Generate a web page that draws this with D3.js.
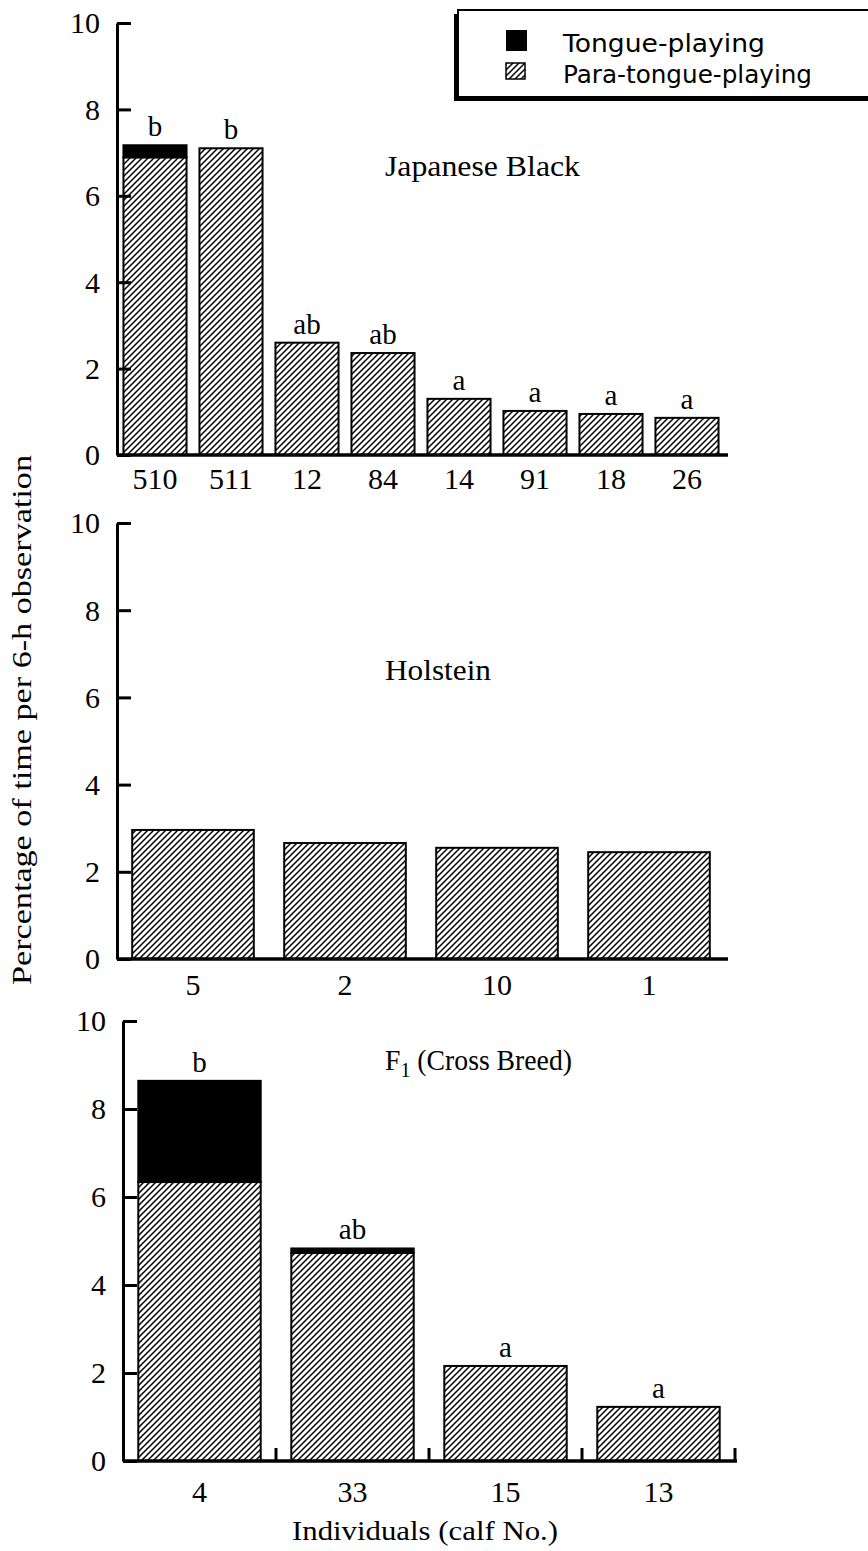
<!DOCTYPE html>
<html><head><meta charset="utf-8">
<script src="https://cdn.jsdelivr.net/npm/d3@7"></script>
<style>
html,body{margin:0;padding:0;background:#fff;}
svg{display:block;}
.serif{font-family:"Liberation Serif","Times New Roman",serif;}
.sans{font-family:"DejaVu Sans","Liberation Sans",sans-serif;}
</style></head>
<body>
<svg id="chart" width="868" height="1551"></svg>
<script>
// ---- data ----
const jbCalves = ["510","511","12","84","14","91","18","26"];
const jbPara   = [6.89, 7.10, 2.60, 2.36, 1.30, 1.02, 0.95, 0.86];
const jbTongue = [0.28, 0, 0, 0, 0, 0, 0, 0];
const jbLetters = ["b","b","ab","ab","a","a","a","a"];

const hoCalves = ["5","2","10","1"];
const hoPara   = [2.96, 2.66, 2.55, 2.45];
const hoTongue = [0, 0, 0, 0];
const hoLetters = ["","","",""];

const f1Calves = ["4","33","15","13"];
const f1Para   = [6.34, 4.73, 2.16, 1.23];
const f1Tongue = [2.30, 0.10, 0, 0];
const f1Letters = ["b","ab","a","a"];

const yTicks = [0,2,4,6,8,10];
const legendLabels = ["Tongue-playing","Para-tongue-playing"];

const svg = d3.select("#chart");
const defs = svg.append("defs");
const pat = defs.append("pattern").attr("id","hatch").attr("patternUnits","userSpaceOnUse")
  .attr("width",6).attr("height",6);
pat.append("rect").attr("width",6).attr("height",6).attr("fill","#fff");
pat.append("path").attr("d","M-1,1 l2,-2 M0,6 l6,-6 M5,7 l2,-2").attr("stroke","#000").attr("stroke-width",1.5);

function panel(cfg){
  const g = svg.append("g");
  const y = d3.scaleLinear().domain([0,10]).range([cfg.y0, cfg.y10]);
  const x = d3.scaleBand().domain(cfg.cats).range([cfg.xl, cfg.xr])
    .paddingInner(cfg.pi).paddingOuter(cfg.po);
  const data = cfg.cats.map((c,i)=>({c, p:cfg.para[i], t:cfg.tongue[i], l:cfg.letters[i]}));
  g.selectAll(".hb").data(data).join("rect")
    .attr("x",d=>x(d.c)).attr("width",x.bandwidth())
    .attr("y",d=>y(d.p)).attr("height",d=>y(0)-y(d.p))
    .attr("fill","url(#hatch)").attr("stroke","#000").attr("stroke-width",2);
  g.selectAll(".tb").data(data.filter(d=>d.t>0)).join("rect")
    .attr("x",d=>x(d.c)).attr("width",x.bandwidth())
    .attr("y",d=>y(d.p+d.t)).attr("height",d=>y(d.p)-y(d.p+d.t))
    .attr("fill","#000").attr("stroke","#000").attr("stroke-width",2);
  g.selectAll(".lt").data(data).join("text").attr("class","serif")
    .attr("x",d=>x(d.c)+x.bandwidth()/2).attr("y",d=>y(d.p+d.t)-9)
    .attr("text-anchor","middle").attr("font-size",29).text(d=>d.l);
  const ya = g.append("g").attr("transform",`translate(${cfg.xl},0)`)
    .call(d3.axisLeft(y).tickValues(yTicks).tickSize(-14).tickSizeOuter(0).tickPadding(17));
  ya.select(".domain").attr("stroke","#000").attr("stroke-width",3);
  ya.selectAll(".tick line").attr("stroke","#000").attr("stroke-width",3);
  ya.selectAll(".tick text").attr("class","serif").attr("font-size",30).attr("fill","#000")
    .attr("dy","0.33em");
  const xa = g.append("g").attr("transform",`translate(0,${cfg.y0})`)
    .call(d3.axisBottom(x).tickSize(0).tickSizeOuter(0).tickPadding(cfg.xpad));
  xa.select(".domain").attr("d",`M${cfg.xl},0H${cfg.xend}`).attr("stroke","#000").attr("stroke-width",3.5);
  xa.selectAll(".tick text").attr("class","serif").attr("font-size",30).attr("fill","#000");
  if(cfg.boundaryTicks){
    const bounds = cfg.cats.map(c=>x(c)+x.bandwidth()+x.step()*x.paddingInner()/2);
    g.selectAll(".bt").data(bounds).join("line")
      .attr("x1",d=>d).attr("x2",d=>d).attr("y1",cfg.y0).attr("y2",cfg.y0-13)
      .attr("stroke","#000").attr("stroke-width",3);
  }
  const t = g.append("text").attr("class","serif").attr("x",385).attr("y",cfg.titleY)
    .attr("font-size",29);
  if(cfg.sub){
    t.attr("textLength",cfg.titleW).attr("lengthAdjust","spacingAndGlyphs");
    t.append("tspan").text("F");
    t.append("tspan").attr("font-size",21).attr("dy",7).text("1");
    t.append("tspan").attr("dy",-7).text(" (Cross Breed)");
  } else t.attr("textLength",cfg.titleW).attr("lengthAdjust","spacingAndGlyphs").text(cfg.title);
}

panel({cats:jbCalves, para:jbPara, tongue:jbTongue, letters:jbLetters,
  y0:455, y10:23, xl:117, xr:725, xend:728, pi:0.17, po:0.085, xpad:13,
  title:"Japanese Black", titleY:176, titleW:195});
panel({cats:hoCalves, para:hoPara, tongue:hoTongue, letters:hoLetters,
  y0:959, y10:523, xl:117, xr:725, xend:728, pi:0.2, po:0.1, xpad:15,
  title:"Holstein", titleY:680, titleW:106});
panel({cats:f1Calves, para:f1Para, tongue:f1Tongue, letters:f1Letters,
  y0:1461, y10:1021, xl:123, xr:735, xend:737, pi:0.2, po:0.1, xpad:20,
  title:"", sub:true, titleY:1070, titleW:187, boundaryTicks:true});

// y axis title
svg.append("text").attr("class","serif").attr("font-size",28)
  .attr("transform","translate(31,720) rotate(-90)").attr("text-anchor","middle")
  .attr("textLength",530).attr("lengthAdjust","spacingAndGlyphs")
  .text("Percentage of time per 6-h observation");
// x axis title
svg.append("text").attr("class","serif").attr("font-size",28)
  .attr("x",425).attr("y",1540).attr("text-anchor","middle")
  .attr("textLength",266).attr("lengthAdjust","spacingAndGlyphs").text("Individuals (calf No.)");

// legend
const lg = svg.append("g");
lg.append("rect").attr("x",454).attr("y",14).attr("width",420).attr("height",87).attr("fill","#000");
lg.append("rect").attr("x",458).attr("y",10).attr("width",420).attr("height",87)
  .attr("fill","#fff").attr("stroke","#000").attr("stroke-width",2);
lg.append("rect").attr("x",506).attr("y",30).attr("width",21).attr("height",21).attr("fill","#000");
lg.append("rect").attr("x",506).attr("y",63).attr("width",19).attr("height",16)
  .attr("fill","url(#hatch)").attr("stroke","#000").attr("stroke-width",1.5);
const legendW = [202, 249];
lg.selectAll(".lgt").data(legendLabels).join("text").attr("class","sans")
  .attr("x",563).attr("y",(d,i)=>52+i*31).attr("font-size",25)
  .attr("textLength",(d,i)=>legendW[i]).attr("lengthAdjust","spacingAndGlyphs").text(d=>d);
</script>
</body></html>
